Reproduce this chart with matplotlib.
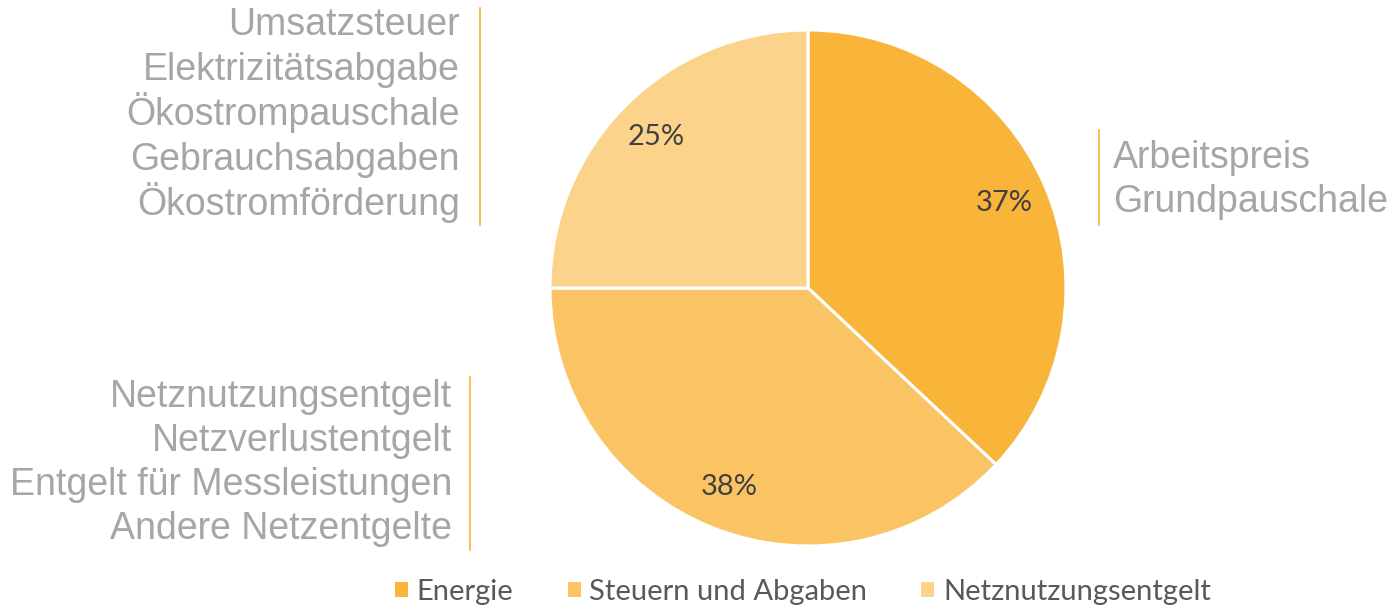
import matplotlib.pyplot as plt
from matplotlib.patches import Patch

# data
labels = ['Energie', 'Steuern und Abgaben', 'Netznutzungsentgelt']
shares = [37, 38, 25]
colors = ['#F9B43A', '#FAC464', '#FBD38B']

notes_energie = ['Arbeitspreis', 'Grundpauschale']
notes_steuern = ['Umsatzsteuer', 'Elektrizitätsabgabe', 'Ökostrompauschale',
                 'Gebrauchsabgaben', 'Ökostromförderung']
notes_netz = ['Netznutzungsentgelt', 'Netzverlustentgelt',
              'Entgelt für Messleistungen', 'Andere Netzentgelte']

W, H = 1389, 609
fig = plt.figure(figsize=(W / 100, H / 100), dpi=100)

# pie axes placed in pixel units: centre (808, 288), radius 258
cx, cy, r = 808, 288, 258
ax = fig.add_axes([(cx - r) / W, (H - cy - r) / H, 2 * r / W, 2 * r / H])
wedges, texts, autotexts = ax.pie(
    shares, colors=colors, startangle=90, counterclock=False,
    autopct='%1.0f%%', pctdistance=0.83, radius=1,
    wedgeprops=dict(edgecolor='white', linewidth=2.2),
    textprops=dict(fontsize=21, color='#404040', family='Lato'))
ax.set_xlim(-1, 1)
ax.set_ylim(-1, 1)

gray = '#A6A6A6'
line_c = '#F9B43A'


def px(x, y):
    return x / W, 1 - y / H


def note_block(lines, x, y0, step, ha, bar_x, bar_top, bar_bot):
    # one text per line so the spacing stays even with umlauts
    for i, s in enumerate(lines):
        fx, fy = px(x, y0 + i * step)
        fig.text(fx, fy, s, ha=ha, va='baseline', fontsize=27, color=gray,
                 family='Liberation Sans')
    fig.add_artist(plt.Line2D([bar_x / W, bar_x / W],
                              [1 - bar_top / H, 1 - bar_bot / H],
                              color=line_c, lw=1.2))


note_block(notes_steuern, 460, 35, 45, 'right', 480, 8, 225)
note_block(notes_energie, 1113, 168, 44, 'left', 1099, 130, 225)
note_block(notes_netz, 452, 407, 44, 'right', 470, 377, 550)

# legend
handles = [Patch(facecolor=c, edgecolor='none') for c in colors]
leg = fig.legend(handles, labels, loc='center', bbox_to_anchor=px(803, 592),
                 ncol=3, frameon=False, handlelength=0.45, handleheight=0.45,
                 handletextpad=0.3, columnspacing=1.85,
                 prop=dict(family='Lato', size=21))
for t in leg.get_texts():
    t.set_color('#595959')

fig.savefig('out.png', dpi=100)
